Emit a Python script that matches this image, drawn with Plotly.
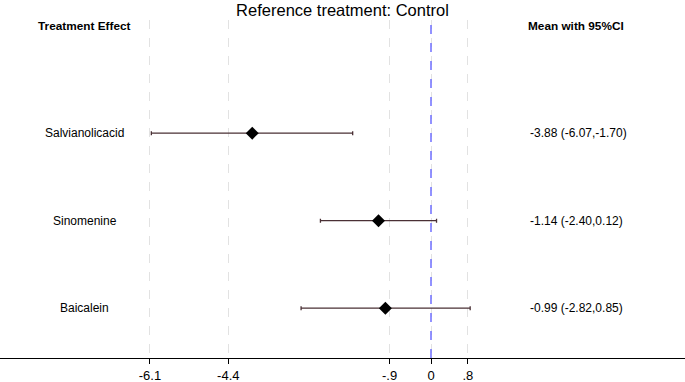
import plotly.graph_objects as go

treatments = ["Salvianolicacid", "Sinomenine", "Baicalein"]
means = [-3.88, -1.14, -0.99]
lower = [-6.07, -2.40, -2.82]
upper = [-1.70, 0.12, 0.85]
row_pos = [3, 2, 1]
tick_vals = [-6.1, -4.4, -0.9, 0, 0.8]
tick_text = ["-6.1", "-4.4", "-.9", "0", ".8"]
header_left = "Treatment Effect"
header_right = "Mean with 95%CI"
title_text = "Reference treatment: Control"

FONT = "Liberation Sans, Arial, Helvetica, sans-serif"

fig = go.Figure()
fig.add_trace(go.Scatter(
    x=means, y=row_pos, mode="markers",
    marker=dict(symbol="diamond", size=10, color="black"),
    error_x=dict(type="data", symmetric=False,
                 array=[u - m for u, m in zip(upper, means)],
                 arrayminus=[m - l for m, l in zip(means, lower)],
                 color="#4a3035", thickness=1.3, width=2),
    showlegend=False, hoverinfo="skip",
))

annotations = []
for t, y in zip(treatments, row_pos):
    annotations.append(dict(x=-7.52, y=y, xref="x", yref="y", text=t, showarrow=False,
                            xanchor="center", yanchor="middle",
                            font=dict(family=FONT, size=12, color="black")))
for m, l, u, y in zip(means, lower, upper, row_pos):
    annotations.append(dict(x=2.1, y=y, xref="x", yref="y",
                            text=f"{m:.2f} ({l:.2f},{u:.2f})", showarrow=False,
                            xanchor="left", yanchor="middle",
                            font=dict(family=FONT, size=12, color="black")))
annotations.append(dict(x=-7.52, y=4.22, xref="x", yref="y", text=f"<b>{header_left}</b>",
                        showarrow=False, xanchor="center", yanchor="middle",
                        font=dict(family=FONT, size=11.8, color="black")))
annotations.append(dict(x=3.14, y=4.22, xref="x", yref="y", text=f"<b>{header_right}</b>",
                        showarrow=False, xanchor="center", yanchor="middle",
                        font=dict(family=FONT, size=11.8, color="black")))

fig.add_shape(type="line", x0=0, x1=0, y0=0, y1=1, xref="x", yref="paper",
              line=dict(color="#6f6fff", width=1.5, dash="dash"), layer="above")

fig.update_layout(
    width=685, height=382,
    margin=dict(l=0, r=0, t=20, b=24),
    plot_bgcolor="white", paper_bgcolor="white",
    title=dict(text=title_text, x=0.5, xanchor="center", y=1 - 10 / 382, yanchor="middle",
               font=dict(family=FONT, size=16.5, color="black")),
    xaxis=dict(range=[-9.355, 5.513], tickvals=tick_vals, ticktext=tick_text,
               showgrid=True, gridcolor="#e2e2e2", griddash="dash", gridwidth=1,
               showline=True, linecolor="black", linewidth=1,
               ticks="outside", ticklen=5, tickcolor="black",
               tickfont=dict(family=FONT, size=13, color="black"),
               zeroline=False, fixedrange=True),
    yaxis=dict(range=[0.43, 4.293], showgrid=False, showticklabels=False,
               zeroline=False, showline=False, fixedrange=True),
    annotations=annotations,
)

fig.write_html("out.html", config={"displayModeBar": False},
               post_script="document.body.style.margin='0';document.body.style.overflow='hidden';")
